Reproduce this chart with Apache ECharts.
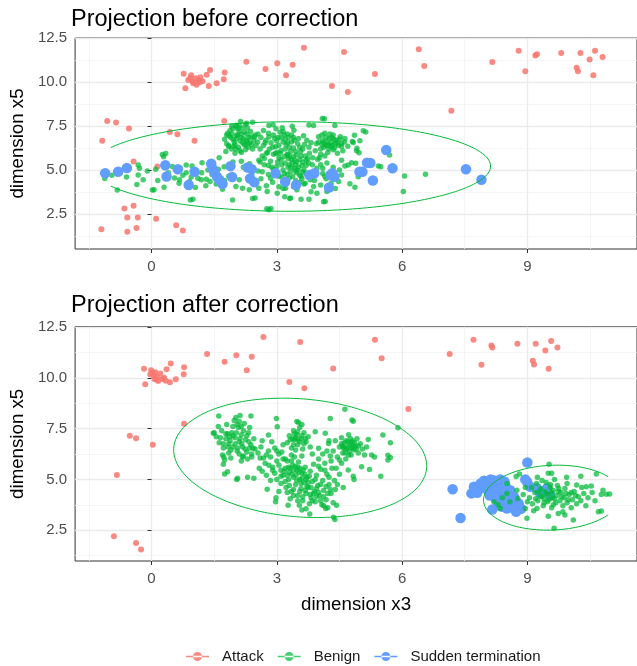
<!DOCTYPE html>
<html><head><meta charset="utf-8">
<script src="https://cdn.jsdelivr.net/npm/echarts@6/dist/echarts.min.js"></script>
<style>html,body{margin:0;padding:0;background:#fff}#c{width:637px;height:666px}</style>
</head><body><div id="c"></div>
<script>
const categories = ['Attack', 'Benign', 'Sudden termination'];
const panelTitles = ['Projection before correction', 'Projection after correction'];
const xTicks = [0, 3, 6, 9];
const xMinor = [-1.5, 1.5, 4.5, 7.5, 10.5];
const yTicks = [2.5, 5, 7.5, 10, 12.5];
const yMinor = [1.25, 3.75, 6.25, 8.75, 11.25];

const attackBefore = [
[-1.20,1.62],[-1.18,6.67],[-1.06,7.79],[-0.85,7.70],[-0.54,7.36],[-0.43,5.48],[-0.65,2.81],[-0.43,2.97],[-0.58,2.30],[-0.33,2.30],[-0.36,1.70],[-0.58,1.48],[0.11,2.22],[0.14,5.20],[0.44,7.17],[0.62,7.03],[0.59,1.86],[0.75,1.56],[1.03,6.67],[1.74,7.79],
[0.77,10.48],[0.95,10.40],[0.88,10.13],[0.98,10.04],[1.06,10.23],[1.13,10.13],[1.08,9.85],[1.17,10.28],[1.00,9.94],[0.81,9.66],[1.32,10.42],[1.40,10.70],[1.37,9.79],[1.56,9.94],[1.73,10.17],[1.75,10.55],[1.15,10.00],[0.93,10.25],[1.22,10.06],
[2.27,11.16],[2.73,10.76],[3.01,11.08],[3.38,10.99],[3.22,10.40],[3.65,11.96],[4.32,9.79],[4.61,11.72],[4.70,9.44],[5.35,10.47],[6.40,11.88],[6.53,10.93],[7.18,8.38],[8.16,11.15],[8.79,11.80],[8.95,10.62],[9.19,11.53],[9.23,11.59],[9.81,11.67],[10.27,11.67],[10.18,10.83],[10.21,10.62],[10.49,11.29],[10.62,11.80],[10.58,10.40],[10.80,11.44]
];
const benignBefore = [
[-1.12,4.52],[-0.82,3.86],[-0.35,4.18],[-0.32,4.71],[-0.29,5.10],[-0.32,5.29],[0.02,3.86],[0.06,3.87],[0.30,4.02],[0.26,5.89],[0.29,5.76],[0.34,5.94],[0.67,4.44],[0.66,4.25],[0.69,5.10],[0.83,5.28],[0.97,5.23],[0.83,4.85],[0.91,4.34],[0.93,3.29],[0.99,3.34],[1.11,4.53],[1.21,5.41],[1.19,4.44],[1.31,4.47],[1.35,5.00],[1.62,5.70],[1.74,5.19],[1.70,3.91],[1.94,3.29],[2.02,4.06],[2.18,3.96],[2.34,3.87],[2.10,4.44],[2.42,3.38],[2.48,3.40],[2.57,3.96],[2.57,5.56],[2.65,4.90],[2.85,4.53],[2.77,3.77],[2.81,2.74],[2.76,2.80],[2.86,2.81],[3.01,3.68],[3.19,3.48],[3.31,3.38],[3.33,3.40],[3.48,3.87],[3.58,3.33],[3.68,4.25],[3.77,3.33],[3.82,3.76],[3.88,4.06],[3.96,3.67],[4.12,3.19],[4.16,3.21],[4.20,3.77],[3.21,3.96],
[2.81,7.54],[2.91,7.58],[3.13,7.41],[3.37,7.49],[3.41,7.26],[3.77,7.57],[3.88,7.54],[4.09,7.93],[4.14,7.92],[4.39,7.54],[5.07,7.24],[5.13,7.16],[4.86,6.98],[4.81,6.62],[4.83,6.56],[4.99,6.66],[4.92,6.24],[4.91,6.09],[4.97,5.98],[4.79,5.41],[4.89,5.38],[4.71,5.28],[4.63,5.23],[5.43,5.23],[5.49,5.19],[5.70,5.85],[6.06,4.66],[6.56,4.76],[6.03,3.77],[4.75,4.21],[4.87,4.02],[4.48,4.34],[4.55,4.72],[4.95,4.62],[4.55,6.51],[4.63,6.79],[2.42,7.72],[2.28,7.66],[2.13,7.76],[2.04,7.47],[1.80,7.00],[1.85,6.33],[2.46,6.88],[2.54,6.60],[2.81,6.88],[2.97,6.32],[2.97,5.94],[3.25,5.85],
[1.78,6.05],[1.85,6.40],[1.90,6.85],[1.82,7.10],[1.95,7.35],[2.02,7.55],[2.10,7.20],[2.05,6.95],[1.98,6.60],[2.08,6.30],[2.15,6.00],[2.22,6.45],[2.20,6.80],[2.28,7.05],[2.30,7.40],[2.38,6.90],[2.35,6.55],[2.42,6.20],[2.12,6.65],[1.92,6.20],[2.00,5.95],[2.18,7.40],[2.25,6.15],[2.45,6.70],[1.88,7.25],[2.05,7.00],[2.15,6.85],[2.00,6.45],[1.95,6.75],[2.32,6.30],[2.10,7.50],[2.50,6.40],[2.48,7.00],[1.75,6.75],[2.25,7.60],
[1.80,6.50],[1.86,6.95],[1.92,7.50],[1.97,6.35],[2.03,6.80],[2.07,7.35],[2.12,6.10],[2.18,6.55],[2.23,7.15],[2.27,6.70],[2.33,6.85],[2.37,7.20],[2.40,6.45],[2.15,7.05],[1.93,7.05],[2.26,6.40],[2.02,6.20],[2.30,6.60],
[2.60,6.20],[2.65,5.80],[2.72,6.55],[2.78,6.00],[2.85,5.50],[2.90,6.30],[2.95,6.80],[3.00,5.20],[3.05,5.70],[3.10,6.10],[3.15,6.60],[3.18,7.00],[3.20,5.40],[3.25,5.90],[3.30,6.30],[3.32,4.90],[3.35,5.60],[3.40,6.85],[3.42,5.10],[3.45,6.05],[3.48,5.45],[3.50,6.50],[3.55,4.70],[3.58,5.80],[3.60,5.25],[3.62,6.20],[3.65,5.00],[3.70,5.55],[3.72,6.70],[3.75,4.60],[3.78,5.95],[3.25,7.05],[3.10,6.85],[3.35,6.60],[3.05,6.40],[3.20,6.20],[3.40,5.75],[3.30,5.30],[3.15,5.00],[3.50,5.00],[3.38,4.65],[3.60,4.50],[3.12,4.60],[2.95,4.80],[3.00,6.00],[3.28,5.65],[3.45,5.30],[3.55,6.30],[3.68,5.80],[3.85,5.30],[3.90,4.90],[3.22,4.40],[3.45,4.40],[2.88,5.15],[2.70,5.30],
[3.02,5.45],[3.08,5.95],[3.12,5.30],[3.18,5.75],[3.22,6.45],[3.27,5.15],[3.30,5.80],[3.33,6.05],[3.37,5.40],[3.40,6.25],[3.43,5.55],[3.47,5.85],[3.52,5.15],[3.55,5.60],[3.57,6.05],[3.62,5.45],[3.66,6.45],[3.70,5.25],[3.74,5.65],[3.77,6.30],[3.28,6.85],[3.20,6.75],[3.35,7.00],[3.15,7.20],[3.42,6.70],[3.00,6.65],[3.08,7.15],[3.48,4.85],[3.25,4.75],[3.62,4.90],[2.92,5.90],[2.82,6.20],[2.75,5.95],[2.68,6.40],
[2.55,7.05],[2.62,6.85],[2.68,7.25],[2.74,6.70],[2.80,7.10],[2.86,6.55],[2.92,7.00],[2.98,7.35],[3.03,6.85],[2.60,5.45],[2.70,5.65],[2.80,5.25],[2.92,5.05],[3.02,4.85],[3.10,5.60],[3.18,4.80],[3.26,6.55],[3.34,5.15],[3.44,4.95],[3.52,6.80],[3.58,4.65],[3.64,6.95],[3.70,4.80],[3.76,5.40],[3.82,6.55],[3.86,5.70],[3.92,6.10],[3.96,5.10],[4.02,5.70],[4.10,5.10],[4.15,4.65],[3.80,4.45],[3.55,4.30],[3.30,4.55],[3.05,4.65],[2.80,4.75],[2.55,4.95],[2.35,5.35],[2.15,5.50],[1.75,4.40],[1.40,4.35],[1.20,4.85],[0.95,4.60],[0.55,4.55],[0.40,4.85],[0.10,5.05],[-0.20,4.45],[-0.60,4.60],[-0.95,4.70],
[3.95,6.50],[4.00,6.90],[4.05,6.20],[4.10,6.70],[4.15,7.10],[4.18,6.40],[4.22,6.00],[4.25,6.80],[4.30,6.55],[4.35,7.00],[4.38,6.25],[4.42,6.70],[4.48,6.40],[4.52,6.90],[4.58,6.10],[4.62,6.60],[4.20,6.60],[4.28,6.35],[4.12,6.55],[4.40,6.50],[4.32,6.85],[4.05,5.90],[3.98,5.60],[4.15,5.80],[4.45,5.95],[4.70,6.35],
[4.00,6.60],[4.08,7.00],[4.13,6.30],[4.18,6.85],[4.23,6.45],[4.27,7.05],[4.33,6.40],[4.37,6.75],[4.45,6.55],[4.50,6.75],[4.55,6.35],[4.25,6.20],[4.35,6.15],[4.08,6.45],
[2.50,4.20],[2.62,4.50],[2.75,4.10],[2.90,4.30],[3.05,4.05],[3.15,3.95],[3.40,4.05],[3.65,4.20],[3.90,4.40],[4.05,4.15],[4.18,4.50],[4.30,4.25],[4.40,3.95],[4.10,4.80],[4.35,5.15],[4.50,5.00],[4.20,5.40],[4.55,5.55],[4.05,5.30],[1.55,4.20],[1.45,4.75],[1.85,4.65],[1.60,5.05],[1.95,5.45],[2.20,5.15],[2.40,4.75],[1.30,4.10],[1.05,4.00],[0.75,4.70],[0.50,5.20],[0.15,4.40],[-0.10,4.95]
];
const suddenBefore = [
[-1.11,4.82],[-0.80,4.90],[-0.59,5.11],[0.33,5.27],[0.36,4.63],[0.63,5.04],[0.89,4.15],[1.03,4.90],[1.43,5.36],[1.47,5.05],[1.51,4.88],[1.57,4.60],[1.63,4.43],[1.70,4.20],[1.89,5.22],[1.93,4.60],[2.30,5.14],[2.36,4.52],[2.46,4.30],[2.40,5.05],[2.97,4.81],[3.20,4.33],[3.46,4.14],[3.78,4.72],[3.90,4.82],[4.25,4.00],[4.28,4.70],[4.38,4.62],[4.33,4.82],[4.98,4.90],[5.05,4.90],[5.16,5.42],[5.24,5.40],[5.30,4.40],[5.62,6.14],[5.77,5.10],[7.53,5.04],[7.90,4.44]
];

const attackAfter = [
[2.68,12.01],[3.56,11.77],[1.33,11.17],[1.75,10.79],[2.03,11.11],[2.40,11.04],[2.28,10.38],[3.30,9.80],[3.66,9.49],[4.35,10.46],[5.35,11.88],[5.51,10.97],[6.15,8.47],[7.14,11.17],[7.71,11.88],[7.90,10.64],[8.14,11.60],[8.16,11.49],[8.76,11.68],[9.20,11.68],[9.13,10.84],[9.16,10.66],[9.43,11.35],[9.57,11.82],[9.51,10.45],[9.72,11.49],
[0.78,7.74],[-0.52,7.15],[-0.37,7.02],[0.03,6.70],[-0.83,5.22],[-0.90,2.20],[-0.37,1.87],[-0.25,1.55],
[-0.18,10.45],[-0.01,10.38],[0.09,10.28],[-0.03,10.17],[0.14,10.05],[0.07,9.95],[0.21,10.21],[0.26,9.95],[0.16,9.84],[-0.15,9.68],[0.34,9.86],[0.44,9.79],[0.36,10.43],[0.46,10.71],[0.78,10.52],[0.77,10.18],[0.58,9.93],[0.05,10.12],[0.02,10.25],[0.11,9.92],[0.30,10.00]
];
const benignAfter = [
[1.61,8.12],[2.38,8.12],[2.35,7.56],[1.50,7.30],[1.48,7.27],[1.73,6.10],[1.82,5.37],[1.75,5.26],[1.72,5.75],[2.04,5.00],[2.06,5.05],[2.30,5.10],[2.45,5.05],[2.18,6.10],[2.40,6.10],[2.43,6.53],[2.80,7.18],[2.99,8.00],[3.01,7.59],[2.81,5.70],[2.65,5.40],[2.77,4.51],[2.97,3.90],[3.27,3.73],[3.54,3.73],[3.60,3.49],[3.79,3.29],[4.17,3.57],[4.39,3.03],[4.36,3.13],[4.43,3.73],[4.59,4.60],[4.83,5.16],[5.22,5.49],[5.49,5.16],[5.34,6.10],[5.66,6.19],[5.72,6.08],[5.66,5.95],[5.54,7.18],[5.72,6.81],[5.90,7.54],[5.19,6.97],[4.83,7.86],[4.80,7.92],[4.63,8.45],[4.28,8.00],[3.92,7.35],[3.48,7.85],[4.16,7.27],[4.24,6.77],[4.00,6.53],[4.55,5.79],[4.71,5.46],[5.03,5.62],[5.27,6.20],[4.85,5.00],
[1.55,7.10],[1.62,6.80],[1.68,7.40],[1.72,6.55],[1.78,7.00],[1.80,7.70],[1.85,6.30],[1.88,6.90],[1.92,7.30],[1.95,6.60],[1.98,7.90],[2.00,7.05],[2.05,6.40],[2.08,7.55],[2.10,6.85],[2.12,8.15],[2.15,7.20],[2.18,6.60],[2.22,7.75],[2.25,6.95],[2.28,6.35],[2.32,7.30],[2.38,6.70],[2.45,7.00],[2.48,6.50],[1.70,6.20],[1.90,6.05],[2.02,8.05],[2.10,7.85],[2.20,6.15],[1.60,7.60],[1.82,7.25],[2.30,6.00],[2.40,6.25],[1.75,5.95],[2.15,5.90],
[1.65,7.05],[1.72,6.75],[1.78,7.25],[1.83,6.60],[1.87,7.10],[1.90,6.45],[1.95,7.15],[2.00,6.75],[2.03,7.30],[2.06,6.55],[2.12,7.00],[2.16,6.75],[2.20,7.40],[2.24,6.50],[2.28,7.15],[2.33,6.85],[2.05,7.70],[2.15,7.60],[1.95,7.60],[1.85,6.75],[2.35,6.55],[2.10,6.25],
[2.55,6.30],[2.62,6.60],[2.68,6.05],[2.72,5.80],[2.80,6.40],[2.85,6.10],[2.90,5.60],[2.95,6.55],[3.00,5.90],[3.05,6.25],[3.10,5.45],[3.15,6.70],[2.58,5.55],[2.75,5.20],[2.88,6.85],[3.20,6.00],[2.65,6.90],
[3.25,6.80],[3.30,7.15],[3.35,6.55],[3.40,7.40],[3.42,6.95],[3.48,7.20],[3.50,6.70],[3.55,7.55],[3.58,7.00],[3.62,6.50],[3.65,7.30],[3.70,6.85],[3.75,7.10],[3.80,6.60],[3.45,6.45],[3.52,7.80],[3.38,7.00],[3.60,7.70],
[3.32,6.95],[3.40,6.70],[3.45,7.05],[3.50,7.35],[3.55,6.85],[3.60,7.15],[3.65,6.75],[3.50,6.95],[3.42,7.25],[3.68,7.00],
[2.95,5.30],[3.00,5.00],[3.05,5.70],[3.10,4.80],[3.15,5.20],[3.20,5.55],[3.22,4.60],[3.25,5.90],[3.28,5.00],[3.30,5.35],[3.35,4.40],[3.38,5.70],[3.40,5.10],[3.42,6.10],[3.45,4.75],[3.48,5.45],[3.50,4.20],[3.52,5.85],[3.55,5.00],[3.58,4.55],[3.60,5.30],[3.62,3.95],[3.65,4.85],[3.68,5.60],[3.70,4.30],[3.72,5.10],[3.75,4.60],[3.78,3.80],[3.80,5.40],[3.82,4.10],[3.85,4.90],[3.88,5.75],[3.90,4.40],[3.92,3.90],[3.95,5.20],[3.98,4.70],[4.00,6.00],[4.02,4.20],[4.05,5.50],[4.08,3.75],[4.10,4.95],[4.12,4.45],[4.15,5.80],[4.18,4.00],[4.20,5.25],[4.22,3.60],[4.25,4.75],[4.28,6.15],[4.30,4.30],[4.32,5.55],[4.35,3.85],[4.38,4.95],[4.40,4.50],[3.15,6.00],[3.35,6.20],[3.60,6.15],[3.85,6.25],[3.32,4.05],[3.05,4.40],[2.98,4.10],[3.70,3.55],
[3.18,5.40],[3.25,5.20],[3.32,5.55],[3.36,5.25],[3.40,5.45],[3.44,5.65],[3.46,5.20],[3.50,5.60],[3.53,5.35],[3.56,5.55],[3.60,5.05],[3.63,5.45],[3.67,5.25],[3.70,5.00],[3.35,5.90],[3.28,5.60],[3.78,5.15],[3.82,4.60],[3.88,4.30],[3.95,4.55],[4.00,4.35],[4.05,4.75],[4.12,4.15],[4.18,4.65],[4.22,4.30],[3.75,4.85],[3.68,4.45],[3.92,5.00],[4.28,4.50],[3.58,4.80],
[3.10,5.15],[3.20,4.90],[3.30,4.70],[3.40,4.50],[3.48,4.95],[3.55,4.40],[3.62,4.15],[3.72,4.65],[3.80,4.25],[3.85,3.95],[3.95,4.15],[4.05,3.95],[4.12,3.70],[3.50,3.95],[3.40,4.20],[3.25,4.35],[2.90,5.45],[2.85,4.95],[3.00,6.40],[3.12,6.35],[2.75,6.20],[2.60,6.05],[4.10,6.25],[4.00,5.65],[4.15,5.45],[4.30,5.90],[4.42,5.55],[4.25,5.10],[4.45,4.75],[4.50,5.25],
[4.35,6.40],[4.40,6.90],[4.45,6.10],[4.50,6.60],[4.55,7.05],[4.58,6.30],[4.62,6.80],[4.65,6.00],[4.68,6.50],[4.72,7.20],[4.75,6.70],[4.78,6.20],[4.82,6.90],[4.85,6.45],[4.88,6.65],[4.92,7.00],[4.95,6.30],[5.00,6.75],[5.05,6.50],[4.60,6.55],[4.70,6.85],[4.80,6.55],[4.50,5.95],[4.20,6.40],[4.25,6.90],[5.10,6.20],[5.15,6.60],
[4.55,6.75],[4.62,6.55],[4.66,6.90],[4.70,6.60],[4.74,6.40],[4.78,6.80],[4.82,6.60],[4.86,6.80],[4.90,6.50],[4.72,6.20],[4.64,6.30],[4.95,6.65],[4.58,6.65],[4.76,7.00],
[9.52,5.74],[9.50,5.30],[9.58,5.30],[8.81,5.26],[8.73,5.14],[9.24,5.10],[9.94,5.10],[10.28,5.16],[10.65,5.26],[9.95,4.80],[10.18,4.72],[10.41,4.64],[10.53,4.67],[10.81,4.47],[10.97,4.28],[10.89,4.27],[10.77,4.26],[10.77,3.44],[10.70,3.40],[10.10,3.00],[9.90,3.24],[9.74,3.32],[9.64,2.59],[9.50,3.19],[8.99,3.08],[8.95,3.57],[9.23,3.57],[8.35,3.57],[8.51,4.80],[8.51,4.31],[8.75,4.47],[8.77,4.06],[8.58,3.90],[8.40,4.10],[8.30,3.75],[8.20,3.90],
[9.05,4.10],[9.10,4.60],[9.12,3.80],[9.18,4.35],[9.22,4.80],[9.25,3.95],[9.30,4.20],[9.32,4.55],[9.38,3.70],[9.40,4.05],[9.42,4.40],[9.45,4.85],[9.48,3.90],[9.50,4.25],[9.55,4.60],[9.58,3.60],[9.60,4.10],[9.62,4.45],[9.68,3.85],[9.70,4.20],[9.72,4.70],[9.78,3.95],[9.80,4.35],[9.85,3.70],[9.88,4.10],[9.90,4.55],[9.95,3.85],[10.00,4.25],[10.05,3.60],[10.08,4.00],[10.12,4.40],[10.18,3.80],[10.22,4.15],[10.28,3.95],[10.35,4.30],[9.35,4.95],[9.65,5.00],[10.40,3.70],[9.15,3.45],[9.85,3.40],
[9.20,4.05],[9.28,4.40],[9.35,4.15],[9.45,4.30],[9.52,4.00],[9.58,4.35],[9.65,4.05],[9.75,4.40],[9.82,4.15],[9.92,4.30],[9.98,4.00],[10.05,4.35],[9.40,3.85],[9.62,3.75],[9.75,4.55],[9.55,4.75],[10.15,4.20],[8.90,4.25],[8.95,4.60],[9.00,3.90],[10.45,4.10],[10.55,4.35],[10.62,3.95],[10.30,4.60]
];
const suddenAfter = [
[7.21,4.51],[7.40,3.10],[7.66,4.31],[7.72,4.64],[7.88,4.80],[7.96,4.93],[8.12,5.00],[7.80,4.34],[8.08,4.39],[8.28,4.64],[8.35,4.80],[8.24,4.06],[8.39,3.98],[8.31,3.73],[8.16,3.52],[8.51,3.57],[8.73,3.40],[8.79,3.82],[8.59,4.47],[8.95,5.00],[9.00,5.83],[8.99,4.88],[9.07,4.64],[8.47,4.72],[8.68,4.15],[9.23,4.56],[9.31,4.31],[9.47,4.56],[9.54,4.23],[8.20,4.55],[8.42,4.25],
[7.75,4.45],[7.85,4.60],[7.95,4.70],[8.05,4.85],[8.20,4.95],[8.35,5.00],[8.45,4.90],[8.25,4.40],[8.10,4.20],[8.30,4.15],[8.45,4.45],[8.55,4.20],[8.62,3.95],[8.40,3.65],[8.50,3.85],[8.65,3.60],[8.85,3.55],[8.00,4.55]
];

// ellipse: [centre x, centre y, half-width, half-height, covariance, clip x min, clip x max]
const ellipseBefore = [3.34, 5.20, 4.78, 2.55, 0.10, -1.0, null];
const ellipseAfterMain = [3.56, 6.06, 3.03, 2.94, -1.20, null, null];
const ellipseAfterSmall = [9.60, 4.10, 1.65, 1.60, 0.19, null, 10.95];

const FONT = "'Liberation Sans', Arial, sans-serif";
const COLORS = ['#F8766D', '#00BA38', '#619CFF'];

function ellipsePath(p, t0) {
  const [cx, cy, W, H, C, lo, hi] = p;
  const k = C / W, s = Math.sqrt(H * H - k * k);
  const out = [];
  for (let i = 0; i <= 240; i++) {
    const t = t0 + i / 240 * 2 * Math.PI;
    const x = cx + W * Math.cos(t);
    const y = cy + k * Math.cos(t) + s * Math.sin(t);
    if ((lo == null || x >= lo) && (hi == null || x <= hi)) out.push([x, y]);
  }
  return out;
}

function gridLines(i) {
  const major = {color: '#EBEBEB', width: 1.3, type: 'solid'};
  const minor = {color: '#F3F3F3', width: 0.8, type: 'solid'};
  const d = [];
  xMinor.forEach(v => d.push({xAxis: v, lineStyle: minor}));
  yMinor.forEach(v => d.push({yAxis: v, lineStyle: minor}));
  xTicks.forEach(v => d.push({xAxis: v, lineStyle: major}));
  yTicks.forEach(v => d.push({yAxis: v, lineStyle: major}));
  return {
    type: 'scatter', xAxisIndex: i, yAxisIndex: i, data: [], silent: true, z: 0,
    markLine: {silent: true, z: 0, symbol: 'none', label: {show: false}, animation: false, data: d}
  };
}

function pts(name, data, i, size, opacity, z) {
  return {
    type: 'scatter', name: name, xAxisIndex: i, yAxisIndex: i, data: data,
    symbol: 'circle', symbolSize: size, z: z, silent: true,
    itemStyle: {color: COLORS[categories.indexOf(name)], opacity: opacity}
  };
}
function ell(p, t0, i) {
  return {
    type: 'line', xAxisIndex: i, yAxisIndex: i, data: ellipsePath(p, t0),
    showSymbol: false, symbol: 'none', silent: true, z: 6,
    lineStyle: {color: '#00BA38', width: 1}
  };
}

const xAxisBase = (i, withName) => ({
  type: 'value', gridIndex: i, min: -1.83, max: 11.625,
  axisLine: {show: false},
  axisTick: {show: true, customValues: xTicks, length: 4, lineStyle: {color: '#333', width: 1}},
  axisLabel: {customValues: xTicks, color: '#4D4D4D', fontSize: 15, fontFamily: FONT, margin: 10},
  splitLine: {show: false},
  name: withName ? 'dimension x3' : '', nameLocation: 'middle', nameGap: 34,
  nameTextStyle: {color: '#000', fontSize: 18.7, fontFamily: FONT}
});
const yAxisBase = (i, min, max) => ({
  type: 'value', gridIndex: i, min: min, max: max,
  axisLine: {show: false},
  axisTick: {show: true, customValues: yTicks, length: 4, lineStyle: {color: '#333', width: 1}},
  axisLabel: {customValues: yTicks, color: '#4D4D4D', fontSize: 15, fontFamily: FONT, margin: 8,
    formatter: v => Number(v).toFixed(1)},
  splitLine: {show: false},
  name: 'dimension x5', nameLocation: 'middle', nameGap: 45, nameRotate: 90,
  nameTextStyle: {color: '#000', fontSize: 18.7, fontFamily: FONT}
});

const chart = echarts.init(document.getElementById('c'), null, {renderer: 'canvas'});
chart.setOption({
  animation: false,
  backgroundColor: '#fff',
  title: [
    {text: panelTitles[0], left: 71, top: 8, padding: 0, textStyle: {color: '#000', fontSize: 23.5, fontWeight: 'normal', fontFamily: FONT}},
    {text: panelTitles[1], left: 71, top: 294, padding: 0, textStyle: {color: '#000', fontSize: 23.5, fontWeight: 'normal', fontFamily: FONT}}
  ],
  legend: {
    data: categories, left: 181, top: 644, itemWidth: 23, itemHeight: 9, itemGap: 14,
    icon: 'path://M0,3.8 L23,3.8 L23,5.2 L0,5.2 Z M7,4.5 A4.5,4.5 0 1,0 16,4.5 A4.5,4.5 0 1,0 7,4.5 Z',
    textStyle: {color: '#1A1A1A', fontSize: 15, fontFamily: FONT, padding: [0, 0, 0, 8]},
    selectedMode: false
  },
  grid: [
    {left: 71.7, top: 38, width: 566, height: 211, show: true, borderColor: '#333', borderWidth: 1, backgroundColor: '#fff'},
    {left: 71.7, top: 326.7, width: 566, height: 234.3, show: true, borderColor: '#333', borderWidth: 1, backgroundColor: '#fff'}
  ],
  xAxis: [xAxisBase(0, false), xAxisBase(1, true)],
  yAxis: [yAxisBase(0, 0.5, 12.52), yAxisBase(1, 0.98, 12.52)],
  series: [
    gridLines(0), gridLines(1),
    pts('Attack', attackBefore, 0, 6, 0.85, 3),
    pts('Benign', benignBefore, 0, 5.5, 0.72, 3),
    pts('Sudden termination', suddenBefore, 0, 10.5, 1, 4),
    ell(ellipseBefore, Math.PI, 0),
    pts('Attack', attackAfter, 1, 6, 0.85, 3),
    pts('Sudden termination', suddenAfter, 1, 10.5, 1, 3),
    pts('Benign', benignAfter, 1, 5.5, 0.72, 4),
    ell(ellipseAfterMain, 0, 1),
    ell(ellipseAfterSmall, 0, 1)
  ]
});
</script></body></html>
